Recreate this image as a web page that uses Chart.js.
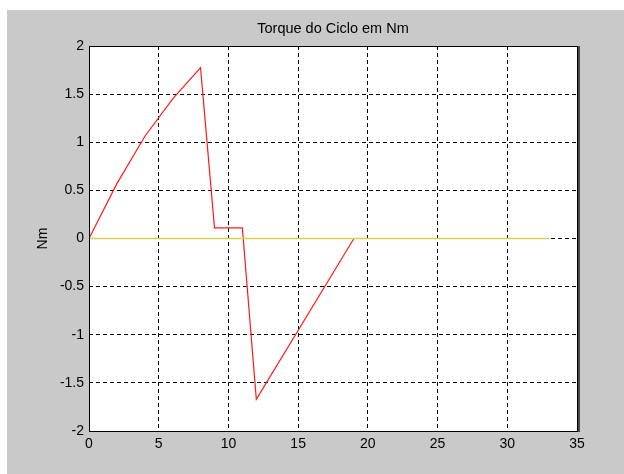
<!DOCTYPE html>
<html>
<head>
<meta charset="utf-8">
<script src="https://cdn.jsdelivr.net/npm/chart.js@4.4.1/dist/chart.umd.min.js"></script>
<style>
  html, body { margin: 0; padding: 0; background: #fff; }
  #fig { position: relative; width: 624px; height: 474px; overflow: hidden; }
  #bg { position: absolute; left: 7px; top: 10px; right: 0; bottom: 0; background: #c9c9c9; }
  #plot { position: absolute; left: 0; top: 0; }
</style>
</head>
<body>
<div id="fig">
  <div id="bg"></div>
  <canvas id="plot" width="624" height="474"></canvas>
</div>
<script>
// torque curve (red)
const torqueX = [0, 2, 4, 6, 8, 9, 11, 12, 19];
const torqueY = [0, 0.57, 1.06, 1.45, 1.775, 0.11, 0.11, -1.67, 0];
// zero reference (yellow)
const zeroX = [0, 33];
const zeroY = [0, 0];

const xTicks = [0, 5, 10, 15, 20, 25, 30, 35];
const yTicks = [-2, -1.5, -1, -0.5, 0, 0.5, 1, 1.5, 2];

const FONT = "'Liberation Sans', Arial, Helvetica, sans-serif";
const pts = (xs, ys) => xs.map((x, i) => ({ x, y: ys[i] }));

// white axes background + solid box on top of the dashed grid
const boxPlugin = {
  id: "box",
  beforeDraw(chart) {
    const { ctx, chartArea: a } = chart;
    ctx.save();
    ctx.fillStyle = "#ffffff";
    ctx.fillRect(a.left, a.top, a.right - a.left, a.bottom - a.top);
    ctx.restore();
  },
  afterDraw(chart) {
    const { ctx, chartArea: a } = chart;
    ctx.save();
    ctx.strokeStyle = "#000";
    ctx.lineWidth = 1;
    ctx.strokeRect(Math.round(a.left) + 0.5, Math.round(a.top) + 0.5,
      Math.round(a.right - a.left), Math.round(a.bottom - a.top));
    ctx.fillStyle = "#4a4a4a";
    ctx.fillRect(Math.round(a.right) + 1, Math.round(a.top), 2, Math.round(a.bottom - a.top) + 1);
    ctx.restore();
  },
};

new Chart(document.getElementById("plot"), {
  type: "line",
  data: {
    datasets: [
      {
        label: "Torque",
        data: pts(torqueX, torqueY),
        borderColor: "#ff1a1a",
        borderWidth: 1.2,
        pointRadius: 0,
        tension: 0,
        fill: false,
        order: 1,
      },
      {
        label: "zero",
        data: pts(zeroX, zeroY),
        borderColor: "#d4d450",
        borderWidth: 1.5,
        pointRadius: 0,
        tension: 0,
        fill: false,
        order: 0,
      },
    ],
  },
  options: {
    responsive: false,
    animation: false,
    layout: { padding: { left: 0, top: 0, right: 47, bottom: 0 } },
    plugins: {
      legend: { display: false },
      tooltip: { enabled: false },
      title: {
        display: true,
        text: "Torque do Ciclo em Nm",
        fullSize: false,
        color: "#000",
        font: { family: FONT, size: 14.5, weight: "normal", lineHeight: 1.2 },
        padding: { top: 20, bottom: 8.6 },
      },
    },
    scales: {
      x: {
        type: "linear",
        min: 0,
        max: 35,
        afterBuildTicks: (s) => { s.ticks = xTicks.map((v) => ({ value: v })); },
        afterFit: (s) => { s.height = 43; },
        grid: { color: "#000", lineWidth: 1, drawTicks: false },
        border: { display: false, dash: [4, 3] },
        ticks: { color: "#000", padding: 5, font: { family: FONT, size: 14 }, maxRotation: 0,
          callback: (v) => String(v) },
      },
      y: {
        type: "linear",
        min: -2,
        max: 2,
        afterBuildTicks: (s) => { s.ticks = yTicks.map((v) => ({ value: v })); },
        afterFit: (s) => { s.width = 89; },
        grid: { color: "#000", lineWidth: 1, drawTicks: false },
        border: { display: false, dash: [4, 3] },
        ticks: { color: "#000", padding: 5, font: { family: FONT, size: 14 },
          callback: (v) => String(v) },
        title: {
          display: true,
          text: "Nm",
          color: "#000",
          font: { family: FONT, size: 14, lineHeight: 1.2 },
          padding: { top: 35, bottom: 0 },
        },
      },
    },
  },
  plugins: [boxPlugin],
});
</script>
</body>
</html>
